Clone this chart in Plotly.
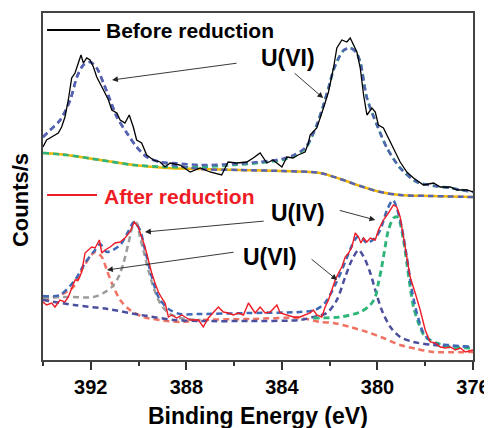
import plotly.graph_objects as go

# ---------------- Before reduction (top spectrum) ----------------
before_x = [394.0, 393.85, 393.64, 393.36, 393.22, 393.08, 392.94, 392.80, 392.66, 392.52,
            392.41, 392.31, 392.17, 392.03, 391.89, 391.75, 391.61, 391.47, 391.26, 391.12,
            390.91, 390.77, 390.57, 390.39, 390.22, 390.08, 389.87, 389.66, 389.38, 389.10,
            388.89, 388.68, 388.26, 387.84, 387.42, 387.01, 386.52, 386.25, 385.89, 385.47,
            385.20, 384.91, 384.63, 384.37, 384.0, 383.79, 383.53, 383.32, 383.03, 382.89,
            382.82, 382.54, 382.26, 382.05, 381.84, 381.70, 381.49, 381.28, 381.14, 381.0,
            380.86, 380.72, 380.58, 380.44, 380.23, 380.09, 379.96, 379.75, 379.54, 379.33,
            379.05, 378.77, 378.49, 378.07, 377.65, 377.37, 376.95, 376.67, 376.25, 376.0]
before_y = [213, 220, 223, 227, 233, 243, 260, 282, 287, 297,
            305, 297, 302, 300, 293, 283, 277, 270, 260, 250,
            247, 240, 237, 245, 233, 220, 217, 205, 200, 198,
            193, 197, 195, 188, 192, 188, 185, 198, 197, 198,
            202, 207, 197, 200, 193, 203, 202, 205, 208, 217,
            225, 232, 252, 268, 292, 312, 320, 318, 322, 315,
            308, 292, 265, 245, 252, 248, 235, 232, 222, 212,
            198, 188, 182, 175, 177, 173, 173, 170, 170, 168]

top_bg_x = [394.0, 393.0, 391.6, 390.2, 388.8, 387.4, 385.8, 384.0, 382.4, 381.56, 380.72, 379.88, 379.05, 377.8, 376.0]
top_bg_y = [207, 205, 200, 195, 192, 191, 190, 189, 187, 181, 174, 168, 165, 164, 163]

top_u6b_x = [394.0, 393.0, 391.6, 390.2, 388.8, 387.4, 386.0, 385.0, 384.0, 383.5, 383.0, 382.54, 382.26,
             382.05, 381.84, 381.6, 381.4, 381.14, 380.9, 380.72, 380.44, 380.02, 379.6, 379.05, 378.35,
             377.6, 376.95, 376.0]
top_u6b_y = [207, 205, 200, 195, 193, 193, 195, 197, 200, 204, 212, 235, 255,
             272, 290, 303, 310, 312, 308, 298, 262, 235, 212, 192, 178,
             174, 172, 168]

top_u6a_x = [394.0, 393.7, 393.28, 392.86, 392.58, 392.31, 392.03, 391.75, 391.47, 391.19, 390.91,
             390.49, 390.08, 389.66, 389.10, 388.54, 387.4, 385.8, 384.0, 382.4, 381.56, 380.72,
             379.88, 379.05, 377.8, 376.0]
top_u6a_y = [223, 230, 240, 260, 283, 295, 298, 292, 277, 260, 243,
             227, 213, 203, 198, 195, 191, 190, 189, 187, 181, 174,
             168, 165, 164, 163]

top_env_x = [394.0, 393.7, 393.28, 392.86, 392.58, 392.31, 392.03, 391.75, 391.47, 391.19, 390.91,
             390.49, 390.08, 389.66, 389.10, 388.54, 387.4, 386.0, 385.0, 384.0, 383.5, 383.0,
             382.54, 382.26, 382.05, 381.84, 381.6, 381.4, 381.14, 380.9, 380.72, 380.44, 380.02,
             379.6, 379.05, 378.35, 377.6, 376.95, 376.0]
top_env_y = [223, 230, 240, 260, 283, 295, 298, 292, 277, 260, 243,
             227, 213, 203, 198, 197, 195, 196, 198, 201, 205, 213,
             235, 255, 272, 290, 303, 310, 312, 308, 298, 262, 235,
             212, 192, 178, 174, 172, 168]

# ---------------- After reduction (bottom spectrum) ----------------
after_x = [394.0, 393.85, 393.64, 393.5, 393.29, 393.08, 392.94, 392.80, 392.66, 392.52,
           392.38, 392.24, 392.10, 391.96, 391.82, 391.64, 391.54, 391.40, 391.19, 390.98,
           390.77, 390.57, 390.36, 390.18, 390.01, 389.87, 389.73, 389.59, 389.45, 389.31,
           389.17, 389.03, 388.89, 388.75, 388.61, 388.40, 388.19, 387.98, 387.84, 387.49,
           387.29, 387.08, 386.87, 386.66, 386.45, 386.24, 386.03, 385.82, 385.61, 385.40,
           385.26, 385.12, 384.91, 384.70, 384.49, 384.21, 384.07, 383.79, 383.52, 383.24,
           383.03, 382.82, 382.68, 382.54, 382.33, 382.19, 382.05, 381.90, 381.77, 381.63,
           381.49, 381.35, 381.21, 381.07, 380.93, 380.79, 380.69, 380.58, 380.44, 380.30,
           380.09, 379.96, 379.75, 379.54, 379.33, 379.19, 379.05, 378.91, 378.77, 378.63,
           378.42, 378.21, 378.00, 377.79, 377.58, 377.37, 377.16, 376.95, 376.74, 376.53,
           376.32, 376.0]
after_y = [58, 55, 57, 53, 60, 58, 63, 72, 80, 80,
           88, 107, 110, 113, 112, 120, 107, 110, 113, 117,
           118, 122, 128, 138, 133, 123, 113, 100, 87, 77,
           68, 62, 57, 43, 45, 42, 45, 42, 40, 40,
           33, 42, 47, 53, 48, 47, 45, 47, 45, 57,
           52, 47, 53, 47, 48, 55, 47, 45, 43, 43,
           45, 47, 50, 45, 43, 53, 60, 70, 80, 87,
           93, 103, 107, 113, 127, 123, 117, 122, 118, 122,
           120, 130, 140, 147, 155, 153, 143, 123, 103, 83,
           67, 50, 30, 18, 17, 13, 12, 13, 10, 12,
           8, 10]

bot_env_x = [394.0, 393.29, 392.66, 392.24, 391.82, 391.61, 391.33, 390.77, 390.44, 390.19, 389.94,
             389.73, 389.52, 389.31, 389.10, 388.68, 388.26, 387.42, 385.33, 383.24, 382.6, 382.2,
             381.77, 381.35, 381.06, 380.85, 380.65, 380.44, 380.1, 379.88, 379.6, 379.35, 379.05,
             378.77, 378.56, 378.35, 378.07, 377.65, 377.0, 376.0]
bot_env_y = [64, 65, 80, 97, 110, 116, 108, 115, 128, 138, 130,
             110, 90, 72, 60, 50, 46, 46, 47, 48, 50, 57,
             75, 98, 115, 123, 122, 117, 122, 130, 150, 160, 140,
             103, 70, 47, 27, 17, 15, 13]

bot_u6_392_x = [394.0, 393.29, 392.73, 392.31, 391.82, 391.54, 391.33, 391.12, 390.77, 390.36, 389.8,
                389.1, 388.26, 387.42, 385.33, 383.24, 382.4, 381.84, 381.14, 380.44, 379.75, 379.05,
                378.35, 377.65, 376.0]
bot_u6_392_y = [60, 65, 73, 93, 108, 103, 90, 77, 60, 50, 43,
                40, 38, 40, 41, 42, 38, 37, 33, 28, 22, 15,
                11, 8, 8]

bot_u4_390_x = [394.0, 393.03, 391.89, 391.47, 391.12, 390.84, 390.63, 390.42, 390.22, 390.08, 389.94,
                389.8, 389.59, 389.38, 389.1, 388.75, 388.26, 387.4]
bot_u4_390_y = [62, 63, 63, 67, 73, 83, 97, 117, 135, 137, 123,
                110, 90, 73, 57, 47, 42, 40]

bot_u6_381_x = [394.0, 392.7, 391.3, 389.9, 388.5, 387.4, 385.3, 383.24, 382.68, 382.12, 381.7,
                381.35, 381.07, 380.79, 380.51, 380.3, 380.09, 379.82, 379.46, 379.05, 378.49,
                377.65, 376.0]
bot_u6_381_y = [60, 55, 51, 45, 40, 39, 39, 40, 43, 47, 60,
                83, 100, 110, 100, 87, 70, 50, 33, 23, 18,
                15, 13]

bot_u4_380_x = [382.68, 381.56, 380.72, 380.3, 380.09, 379.96, 379.82, 379.68, 379.54, 379.33, 379.17,
                379.05, 378.91, 378.77, 378.63, 378.49, 378.28, 378.0, 377.51, 376.95, 376.0]
bot_u4_380_y = [42, 43, 48, 55, 63, 77, 93, 113, 130, 142, 143,
                137, 120, 97, 73, 53, 37, 23, 17, 13, 12]

x_ticks = [392, 388, 384, 380, 376]
x_ticklabels = ["392", "388", "384", "380", "376"]

FONT = "Arial, Liberation Sans, sans-serif"
BLUE_T = "#5662b2"
GREEN = "#2fb57a"
YELLOW = "#f2b705"
BLUE_B = "#3f68b5"
NAVY = "#4b4f9e"
GREY = "#9c9c9c"
SALMON = "#ef7262"
RED = "#ee1c25"
DASH = "6px,4px"

fig = go.Figure()


def add(x, y, color, width=2.5, dash=DASH, shape="spline"):
    fig.add_trace(go.Scatter(x=x, y=y, mode="lines",
                             line=dict(color=color, width=width, dash=dash, shape=shape,
                                       smoothing=0.8 if shape == "spline" else None),
                             hoverinfo="skip", showlegend=False))


# top fits
add(top_bg_x, top_bg_y, YELLOW, width=2.5, dash="solid")
add(top_u6b_x, top_u6b_y, GREEN, width=2.7)
add(top_u6a_x, top_u6a_y, BLUE_T)
add(top_env_x, top_env_y, BLUE_T)
# top data
add(before_x, before_y, "black", width=1.3, dash="solid", shape="linear")

# bottom fits
add(bot_u6_392_x, bot_u6_392_y, SALMON)
add(bot_u4_390_x, bot_u4_390_y, GREY)
add(bot_u6_381_x, bot_u6_381_y, NAVY)
add(bot_u4_380_x, bot_u4_380_y, GREEN, width=2.9)
add(bot_env_x, bot_env_y, BLUE_B)
# bottom data
add(after_x, after_y, RED, width=1.4, dash="solid", shape="linear")

# legend-like line samples
fig.add_shape(type="line", xref="x", yref="y", x0=393.83, x1=391.61, y0=330, y1=330,
              line=dict(color="black", width=2))
fig.add_shape(type="line", xref="x", yref="y", x0=393.83, x1=391.74, y0=165, y1=165,
              line=dict(color=RED, width=2))

anns = []
anns.append(dict(x=391.45, y=330, text="Before reduction", showarrow=False, xanchor="left",
                 yanchor="middle", font=dict(family=FONT, size=21, color="black", weight="bold")))
anns.append(dict(x=391.55, y=164, text="After reduction", showarrow=False, xanchor="left",
                 yanchor="middle", font=dict(family=FONT, size=21, color=RED, weight="bold")))
anns.append(dict(x=383.76, y=302, text="U(VI)", showarrow=False, xanchor="center",
                 yanchor="middle", font=dict(family=FONT, size=23, color="black", weight="bold")))
anns.append(dict(x=383.32, y=147, text="U(IV)", showarrow=False, xanchor="center",
                 yanchor="middle", font=dict(family=FONT, size=23, color="black", weight="bold")))
anns.append(dict(x=384.49, y=103, text="U(VI)", showarrow=False, xanchor="center",
                 yanchor="middle", font=dict(family=FONT, size=23, color="black", weight="bold")))

arrows = [
    (391.11, 280, 385.83, 297),
    (382.27, 262, 383.53, 288),
    (389.73, 128, 384.70, 139),
    (380.09, 140, 381.64, 150),
    (391.32, 90, 385.96, 108),
    (381.69, 80, 382.82, 102),
]
for hx, hy, tx, ty in arrows:
    anns.append(dict(x=hx, y=hy, ax=tx, ay=ty, xref="x", yref="y", axref="x", ayref="y",
                     text="", showarrow=True, arrowhead=2, arrowsize=1.3, arrowwidth=0.9,
                     arrowcolor="#222222"))

anns.append(dict(x=0.5, y=-0.161, xref="paper", yref="paper", text="Binding Energy (eV)",
                 showarrow=False, xanchor="center", yanchor="middle",
                 font=dict(family=FONT, size=23, color="black", weight="bold")))
anns.append(dict(x=-0.0535, y=0.461, xref="paper", yref="paper", text="Counts/s", textangle=-90,
                 showarrow=False, xanchor="center", yanchor="middle",
                 font=dict(family=FONT, size=22, color="black", weight="bold")))

# The page body has an 8px default margin, so the figure is sized/offset to compensate.
fig.update_layout(
    width=484, height=420,
    margin=dict(l=35, r=19, t=5, b=68, autoexpand=False),
    paper_bgcolor="white", plot_bgcolor="white",
    annotations=anns,
    showlegend=False,
    xaxis=dict(range=[394, 376], tickvals=x_ticks, ticktext=x_ticklabels, automargin=False,
               ticks="outside", ticklen=8, tickwidth=1.5, tickcolor="#333",
               minor=dict(dtick=2, tick0=376, ticks="outside", ticklen=4, tickwidth=1.5, tickcolor="#333"),
               showline=True, linecolor="#444", linewidth=1.5, mirror=True,
               showgrid=False, zeroline=False,
               tickfont=dict(family=FONT, size=20, color="black", weight="bold")),
    yaxis=dict(range=[0, 347], showticklabels=False, ticks="", automargin=False,
               showline=True, linecolor="#444", linewidth=1.5, mirror=True,
               showgrid=False, zeroline=False),
)

fig.write_html("out.html")
